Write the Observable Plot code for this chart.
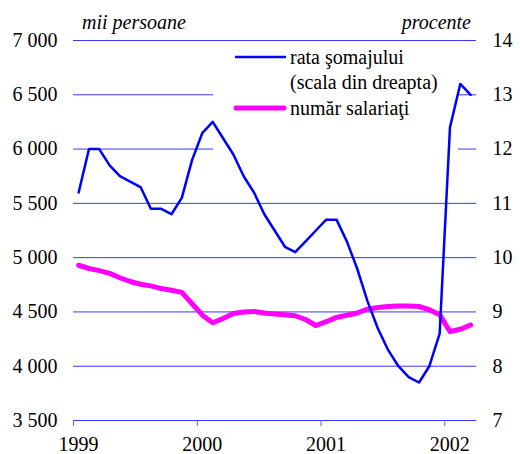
<!DOCTYPE html>
<html><head><meta charset="utf-8">
<script src="https://cdn.jsdelivr.net/npm/d3@7"></script>
<script src="https://cdn.jsdelivr.net/npm/@observablehq/plot@0.6"></script>
<style>
body{margin:0;background:#fff;font-family:'DejaVu Sans';font-size:11px;}
#chart{width:520px;height:454px;}
</style></head><body><div id="chart"></div>
<script>
const startYear = 1999;
// unemployment rate, % (right scale), Jan 1999 – Mar 2002
const unemploymentRate = [11.2, 12.0, 12.0, 11.7, 11.5, 11.4, 11.3, 10.9, 10.9, 10.8, 11.1, 11.8,
  12.3, 12.5, 12.2, 11.9, 11.5, 11.2, 10.8, 10.5, 10.2, 10.1, 10.3, 10.5,
  10.7, 10.7, 10.3, 9.8, 9.2, 8.7, 8.3, 8.0, 7.8, 7.7, 8.0, 8.6,
  12.4, 13.2, 13.0];
// number of employees, thousand persons (left scale)
const employees = [4930, 4900, 4880, 4855, 4815, 4780, 4755, 4740, 4715, 4700, 4680, 4575,
  4470, 4400, 4440, 4485, 4500, 4505, 4490, 4480, 4475, 4465, 4430, 4375,
  4410, 4450, 4470, 4490, 4525, 4540, 4550, 4555, 4555, 4550, 4520, 4475,
  4320, 4340, 4380];
const yearTicks = [1999, 2000, 2001, 2002];
const leftTicks = [3500, 4000, 4500, 5000, 5500, 6000, 6500, 7000];
const rightTicks = [7, 8, 9, 10, 11, 12, 13, 14];
const legendLabels = ["rata şomajului", "(scala din dreapta)", "număr salariaţi"];
const leftUnit = "mii persoane";
const rightUnit = "procente";

const toLeft = r => 3500 + (r - 7) * 500;
const fromLeft = v => (v - 3500) / 500 + 7;
const monthX = i => startYear + (i + 0.5) / 12;
const fmt = d => String(d).replace(/\B(?=(\d{3})+(?!\d))/g, " ");
const FONT = "Liberation Serif";

function draw() {
  const empData = employees.map((v, i) => ({x: monthX(i), y: v}));
  const unData = unemploymentRate.map((v, i) => ({x: monthX(i), y: toLeft(v)}));
  const plot = Plot.plot({
    width: 520, height: 454,
    marginLeft: 73, marginRight: 44, marginTop: 40, marginBottom: 34,
    style: {fontFamily: FONT, fontSize: "20px", color: "#000", background: "#fff"},
    x: {type: "linear", domain: [1999, 2002.256]},
    y: {domain: [3500, 7000]},
    marks: [
      Plot.ruleY(leftTicks, {stroke: "#3838ff", strokeWidth: 1}),
      Plot.axisY({ticks: leftTicks, tickSize: 0, tickPadding: 16, tickFormat: fmt, label: null, fontFamily: FONT}),
      Plot.axisY({anchor: "right", ticks: rightTicks.map(toLeft), tickSize: 0, tickPadding: 16,
        tickFormat: d => String(fromLeft(d)), label: null, fontFamily: FONT}),
      Plot.axisX({ticks: yearTicks, tickSize: 6, tickFormat: () => "", stroke: "#5a5aff", label: null}),
      Plot.axisX({ticks: yearTicks, tickSize: 0, tickPadding: 16, dx: 5, tickFormat: d => String(d), label: null, fontFamily: FONT}),
      Plot.line(empData, {x: "x", y: "y", stroke: "#ff00ff", strokeWidth: 5}),
      Plot.line(unData, {x: "x", y: "y", stroke: "#0000ff", strokeWidth: 2.5})
    ]
  });
  const chart = document.getElementById("chart");
  chart.innerHTML = "";
  chart.appendChild(plot);

  // legend (opaque box over gridlines, under data lines)
  const NS = "http://www.w3.org/2000/svg";
  const firstLine = plot.querySelector('g[aria-label="line"]');
  const leg = document.createElementNS(NS, "g");
  plot.insertBefore(leg, firstLine);
  const L = d3.select(leg);
  L.append("rect").attr("x", 213).attr("y", 45).attr("width", 245).attr("height", 107).attr("fill", "#fff");
  L.append("line").attr("x1", 235).attr("x2", 286).attr("y1", 57).attr("y2", 57)
    .attr("stroke", "#0000ff").attr("stroke-width", 2.5);
  L.append("line").attr("x1", 236).attr("x2", 284).attr("y1", 108).attr("y2", 108)
    .attr("stroke", "#ff00ff").attr("stroke-width", 5).attr("stroke-linecap", "round");
  [64, 89, 115].forEach((yy, i) => {
    L.append("text").attr("x", 290).attr("y", yy).attr("text-anchor", "start")
      .attr("font-family", FONT).attr("font-size", 20).text(legendLabels[i]);
  });

  const S = d3.select(plot);
  S.append("text").attr("x", 82).attr("y", 29).attr("text-anchor", "start").attr("font-family", FONT)
    .attr("font-size", 20).attr("font-style", "italic").text(leftUnit);
  S.append("text").attr("x", 471).attr("y", 29).attr("text-anchor", "end").attr("font-family", FONT)
    .attr("font-size", 20).attr("font-style", "italic").text(rightUnit);

  // force style resolution of all texts
  plot.querySelectorAll("text").forEach(t => getComputedStyle(t).fontFamily);
}

draw();
if (document.fonts && document.fonts.load) {
  Promise.all([
    document.fonts.load("20px 'Liberation Serif'"),
    document.fonts.load("italic 20px 'Liberation Serif'")
  ]).then(draw, () => {});
}
</script>
</body></html>
